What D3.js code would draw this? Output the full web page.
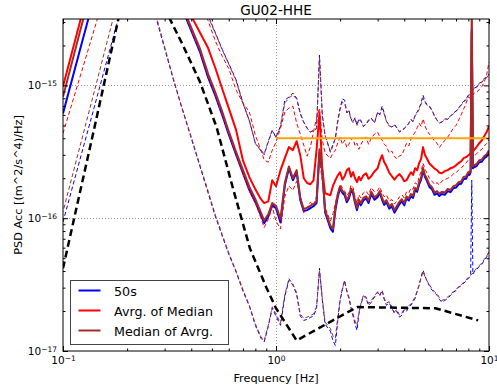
<!DOCTYPE html>
<html>
<head>
<meta charset="utf-8">
<script src="https://cdn.jsdelivr.net/npm/d3@7"></script>
<style>
  body { margin: 0; background: #fff; }
  svg { display: block; font-family: "DejaVu Sans", sans-serif; }
</style>
</head>
<body>
<div id="chart"></div>
<script>
// frequency grid shared by the PSD curves (Hz)
const freqHz = [
  0.1, 0.12, 0.14, 0.16, 0.18, 0.22, 0.26, 0.3, 0.33, 0.36,
  0.4, 0.44, 0.48, 0.52, 0.56, 0.6, 0.65, 0.7, 0.75, 0.8,
  0.85, 0.88, 0.92, 0.96,
  1.0, 1.05, 1.1, 1.15, 1.2, 1.25, 1.3, 1.35, 1.4, 1.45, 1.5, 1.55, 1.6, 1.65, 1.7,
  1.8, 1.85, 1.9, 1.95, 2.0,
  2.05, 2.1, 2.15, 2.2, 2.25,
  2.3, 2.35, 2.4, 2.45, 2.5,
  2.57, 2.65, 2.72, 2.8, 2.9,
  3.0, 3.07, 3.15, 3.22, 3.3,
  3.4, 3.5, 3.6, 3.7, 3.8,
  3.9, 4.0, 4.1, 4.2, 4.3,
  4.4, 4.5, 4.6, 4.7, 4.8,
  4.9, 5.0, 5.1, 5.25, 5.4,
  5.55, 5.7, 5.85, 6.0, 6.2,
  6.4, 6.6, 6.8, 7.0, 7.2,
  7.4, 7.6, 7.8, 8.0, 8.1,
  8.2, 8.3, 8.4, 8.5, 8.75,
  9.0, 9.25, 9.5, 9.75, 10
]

// 50s windows
const psd50s = [
  6.15e-16, 1.84e-15, 4.6e-15, 1.2e-14, 2e-14, 3e-14, 2.5e-14, 1.2e-14, 5.4e-15, 3.9e-15,
  2.58e-15, 1.78e-15, 1.15e-15, 8.3e-16, 5.93e-16, 4.27e-16, 3.0e-16, 2.18e-16, 1.63e-16, 1.32e-16,
  1.05e-16, 9.17e-17, 1.03e-16, 1.25e-16,
  1.19e-16, 9.3e-17, 1.77e-16, 2.38e-16, 1.93e-16, 2.22e-16, 1.37e-16, 1.13e-16, 1.15e-16, 1.19e-16, 1.23e-16, 1.3e-16, 3.14e-16, 2.22e-16, 1.11e-16,
  8.4e-17, 7.9e-17, 1.15e-16, 1.45e-16, 1.68e-16,
  1.55e-16, 1.49e-16, 1.32e-16, 1.41e-16, 1.62e-16,
  1.54e-16, 1.3e-16, 1.15e-16, 1.33e-16, 1.25e-16,
  1.36e-16, 1.41e-16, 1.3e-16, 1.52e-16, 1.38e-16,
  1.44e-16, 1.55e-16, 1.37e-16, 1.26e-16, 1.32e-16,
  1.18e-16, 1.23e-16, 1.1e-16, 1.19e-16, 1.28e-16,
  1.34e-16, 1.25e-16, 1.41e-16, 1.36e-16, 1.46e-16,
  1.42e-16, 1.63e-16, 1.58e-16, 1.8e-16, 1.95e-16,
  2.3e-16, 2.05e-16, 1.93e-16, 1.72e-16, 1.65e-16,
  1.5e-16, 1.54e-16, 1.47e-16, 1.52e-16, 1.5e-16,
  1.6e-16, 1.57e-16, 1.68e-16, 1.7e-16, 1.8e-16,
  1.82e-16, 1.97e-16, 1.98e-16, 2.15e-16, 2.12e-16,
  2.22e-16, 2.61e-15, 2.38e-16, 2.42e-16, 2.47e-16,
  2.64e-16, 2.66e-16, 2.83e-16, 2.92e-16, 3.14e-16
]
const psd50sHigh = [
  6e-15, 1.2e-14, 2.2e-14, 3.5e-14, 5e-14, 7e-14, 6e-14, 4e-14, 2.5e-14, 1.4e-14,
  7e-15, 4.67e-15, 3.36e-15, 2.48e-15, 1.86e-15, 1.46e-15, 1.1e-15, 7.36e-16, 5.43e-16, 3.67e-16,
  3.25e-16, 3.04e-16, 3.8e-16, 4.6e-16,
  4.08e-16, 4.94e-16, 7.75e-16, 8.17e-16, 8.76e-16, 8.03e-16, 6.19e-16, 5.3e-16, 4.77e-16, 4.45e-16, 4.6e-16, 4.77e-16, 1.69e-15, 5.98e-16, 4.22e-16,
  3.14e-16, 3.5e-16, 4.01e-16, 5.5e-16, 6.75e-16,
  7.9e-16, 7.75e-16, 6.2e-16, 6.52e-16, 5.6e-16,
  5.3e-16, 5.7e-16, 5.02e-16, 5.6e-16, 5.48e-16,
  4.9e-16, 5.11e-16, 5.5e-16, 5.67e-16, 5.2e-16,
  6.3e-16, 6.0e-16, 6.98e-16, 6.2e-16, 5.38e-16,
  5.0e-16, 4.85e-16, 5.1e-16, 4.77e-16, 4.45e-16,
  4.6e-16, 4.75e-16, 4.94e-16, 5.2e-16, 5.57e-16,
  5.3e-16, 5.98e-16, 6.3e-16, 6.75e-16, 7.4e-16,
  8.44e-16, 7.6e-16, 7.23e-16, 7.0e-16, 6.52e-16,
  5.9e-16, 5.48e-16, 5.2e-16, 5.3e-16, 5.6e-16,
  5.57e-16, 5.9e-16, 6.19e-16, 6.4e-16, 6.75e-16,
  7.2e-16, 7.6e-16, 7.9e-16, 8.44e-16, 8.5e-16,
  8.76e-16, 9.1e-16, 9.28e-16, 9.55e-16, 9.7e-16,
  1.04e-15, 1.06e-15, 1.13e-15, 1.15e-15, 1.22e-15
]
const psd50sLow = [
  9.36e-17, 2.75e-16, 6.8e-16, 1.5e-15, 3.0e-15, 1.12e-14, 4.3e-15, 1.9e-15, 1.1e-15, 6.9e-16,
  4.0e-16, 2.44e-16, 1.55e-16, 1.02e-16, 7.3e-17, 5.36e-17, 3.92e-17, 2.82e-17, 2.17e-17, 1.56e-17,
  1.25e-17, 1.17e-17, 1.53e-17, 2.1e-17,
  1.83e-17, 1.56e-17, 2.58e-17, 3.41e-17, 3.13e-17, 2.67e-17, 1.83e-17, 1.7e-17, 1.73e-17, 1.79e-17, 1.83e-17, 2.1e-17, 4.2e-17, 2.41e-17, 1.59e-17,
  1.41e-17, 1.2e-17, 1.1e-17, 1.7e-17, 2.41e-17,
  2.9e-17, 3.41e-17, 2.8e-17, 2.49e-17, 2.1e-17,
  1.83e-17, 1.6e-17, 1.43e-17, 1.9e-17, 2.21e-17,
  2.6e-17, 2.49e-17, 2.2e-17, 2.33e-17, 2.55e-17,
  2.77e-17, 2.6e-17, 2.87e-17, 2.45e-17, 2.21e-17,
  2.3e-17, 2.1e-17, 1.92e-17, 1.99e-17, 1.8e-17,
  1.86e-17, 2.05e-17, 1.99e-17, 2.15e-17, 2.21e-17,
  2.35e-17, 2.49e-17, 2.8e-17, 3.13e-17, 3.6e-17,
  4.06e-17, 3.7e-17, 3.41e-17, 3.1e-17, 2.87e-17,
  2.75e-17, 2.63e-17, 2.45e-17, 2.33e-17, 2.4e-17,
  2.49e-17, 2.62e-17, 2.77e-17, 2.85e-17, 3.02e-17,
  3.1e-17, 3.24e-17, 3.35e-17, 3.53e-17, 3.58e-17,
  3.66e-17, 1.93e-16, 3.78e-17, 3.92e-17, 4.1e-17,
  4.35e-17, 4.5e-17, 4.83e-17, 5.1e-17, 5.55e-17
]

// average of medians
const psdAvgMed = [
  9.8e-16, 2.99e-15, 7.65e-15, 1.8e-14, 2.8e-14, 4e-14, 3.5e-14, 2e-14, 5.9e-15, 4.55e-15,
  3.33e-15, 2.49e-15, 1.91e-15, 1.34e-15, 9.35e-16, 6.75e-16, 4.6e-16, 2.71e-16, 2.04e-16, 1.65e-16,
  1.39e-16, 1.3e-16, 1.34e-16, 1.93e-16,
  1.74e-16, 2.3e-16, 2.83e-16, 3.43e-16, 3.25e-16, 3.8e-16, 2.98e-16, 2.0e-16, 1.84e-16, 1.8e-16, 1.93e-16, 3.25e-16, 6.2e-16, 2.3e-16, 1.54e-16,
  1.49e-16, 1.75e-16, 1.93e-16, 2.1e-16, 2.22e-16,
  1.95e-16, 2.07e-16, 2.3e-16, 2.38e-16, 2.05e-16,
  2.22e-16, 2.0e-16, 1.87e-16, 2.05e-16, 1.93e-16,
  2.1e-16, 2.18e-16, 1.98e-16, 2.07e-16, 2.25e-16,
  2.38e-16, 2.7e-16, 2.98e-16, 2.65e-16, 2.47e-16,
  2.2e-16, 2.07e-16, 1.95e-16, 2.07e-16, 2.15e-16,
  2.04e-16, 1.9e-16, 1.93e-16, 2.08e-16, 2.22e-16,
  2.12e-16, 2.38e-16, 2.3e-16, 2.6e-16, 2.8e-16,
  3.43e-16, 3.0e-16, 2.83e-16, 2.58e-16, 2.47e-16,
  2.36e-16, 2.3e-16, 2.2e-16, 2.18e-16, 2.26e-16,
  2.3e-16, 2.38e-16, 2.42e-16, 2.5e-16, 2.6e-16,
  2.68e-16, 2.83e-16, 2.88e-16, 2.98e-16, 3.02e-16,
  3.09e-16, 2.48e-15, 3.2e-16, 3.25e-16, 3.45e-16,
  3.67e-16, 3.85e-16, 4.15e-16, 4.45e-16, 4.94e-16
]
const psdAvgMedHigh = [
  8e-15, 1.6e-14, 3e-14, 5e-14, 7e-14, 9e-14, 8e-14, 5e-14, 3e-14, 1.6e-14,
  9e-15, 4.74e-15, 3.07e-15, 2.14e-15, 1.65e-15, 1.34e-15, 9.2e-16, 7.36e-16, 6.3e-16, 4.22e-16,
  3.25e-16, 2.74e-16, 2.64e-16, 3.25e-16,
  3.74e-16, 4.77e-16, 6.3e-16, 6.75e-16, 6.98e-16, 5.2e-16, 4.3e-16, 3.55e-16, 2.93e-16, 3.43e-16, 4.45e-16, 5.67e-16, 6.75e-16, 3.87e-16, 3.09e-16,
  2.83e-16, 3.1e-16, 3.25e-16, 3.7e-16, 4.08e-16,
  3.6e-16, 3.87e-16, 3.4e-16, 3.61e-16, 3.9e-16,
  4.01e-16, 3.5e-16, 3.67e-16, 3.3e-16, 3.55e-16,
  3.9e-16, 4.08e-16, 3.6e-16, 4.01e-16, 4.3e-16,
  4.45e-16, 4.1e-16, 3.87e-16, 3.6e-16, 3.49e-16,
  3.1e-16, 3.2e-16, 2.9e-16, 2.8e-16, 2.95e-16,
  3.0e-16, 3.3e-16, 3.67e-16, 3.5e-16, 3.94e-16,
  4.2e-16, 4.45e-16, 4.8e-16, 5.2e-16, 4.9e-16,
  5.6e-16, 5.0e-16, 4.6e-16, 4.3e-16, 4.08e-16,
  3.8e-16, 3.67e-16, 3.4e-16, 3.61e-16, 3.85e-16,
  4.08e-16, 4.4e-16, 4.77e-16, 5.0e-16, 5.48e-16,
  6.0e-16, 6.63e-16, 7.3e-16, 8.2e-16, 8.0e-16,
  8.3e-16, 8.44e-16, 8.44e-16, 8.76e-16, 8.9e-16,
  9.28e-16, 9.8e-16, 1.06e-15, 1.2e-15, 1.5e-15
]
const psdAvgMedLow = [
  4.35e-16, 1.15e-15, 2.62e-15, 5.4e-15, 1e-14, 2e-14, 1.8e-14, 1e-14, 5.5e-15, 4e-15,
  2.6e-15, 1.8e-15, 1.17e-15, 8.4e-16, 6.0e-16, 4.3e-16, 3.0e-16, 2.15e-16, 1.6e-16, 1.3e-16,
  1.0e-16, 8.5e-17, 9.8e-17, 1.22e-16,
  9.5e-17, 8.3e-17, 1.45e-16, 1.75e-16, 1.62e-16, 1.9e-16, 1.5e-16, 1.1e-16, 1.2e-16, 1.32e-16, 1.25e-16, 1.45e-16, 2.8e-16, 1.9e-16, 1.2e-16,
  9.5e-17, 1.08e-16, 1.3e-16, 1.55e-16, 1.8e-16,
  1.7e-16, 1.6e-16, 1.48e-16, 1.55e-16, 1.78e-16,
  1.7e-16, 1.45e-16, 1.3e-16, 1.5e-16, 1.42e-16,
  1.55e-16, 1.6e-16, 1.5e-16, 1.7e-16, 1.58e-16,
  1.62e-16, 1.72e-16, 1.55e-16, 1.45e-16, 1.5e-16,
  1.35e-16, 1.38e-16, 1.28e-16, 1.35e-16, 1.45e-16,
  1.5e-16, 1.42e-16, 1.58e-16, 1.55e-16, 1.68e-16,
  1.65e-16, 1.85e-16, 1.8e-16, 2.05e-16, 2.25e-16,
  2.6e-16, 2.35e-16, 2.2e-16, 2.0e-16, 1.9e-16,
  1.8e-16, 1.85e-16, 1.78e-16, 1.9e-16, 1.95e-16,
  2.0e-16, 2.05e-16, 2.15e-16, 2.2e-16, 2.3e-16,
  2.38e-16, 2.5e-16, 2.6e-16, 2.75e-16, 2.78e-16,
  2.82e-16, 2.88e-16, 2.9e-16, 2.95e-16, 3.05e-16,
  3.2e-16, 3.3e-16, 3.5e-16, 3.65e-16, 3.9e-16
]

// median of averages
const psdMedAvg = [
  8.2e-16, 2.52e-15, 6.5e-15, 1.4e-14, 2.2e-14, 3.2e-14, 2.7e-14, 1.3e-14, 5.8e-15, 4.1e-15,
  2.72e-15, 1.88e-15, 1.22e-15, 8.8e-16, 6.3e-16, 4.5e-16, 3.15e-16, 2.3e-16, 1.72e-16, 1.39e-16,
  1.1e-16, 9.6e-17, 1.07e-16, 1.3e-16,
  1.24e-16, 9.9e-17, 1.84e-16, 2.45e-16, 2.0e-16, 2.3e-16, 1.42e-16, 1.17e-16, 1.2e-16, 1.24e-16, 1.28e-16, 1.34e-16, 3.3e-16, 2.3e-16, 1.15e-16,
  8.8e-17, 8.3e-17, 1.2e-16, 1.52e-16, 1.74e-16,
  1.6e-16, 1.55e-16, 1.37e-16, 1.46e-16, 1.67e-16,
  1.6e-16, 1.35e-16, 1.2e-16, 1.38e-16, 1.3e-16,
  1.42e-16, 1.46e-16, 1.36e-16, 1.58e-16, 1.43e-16,
  1.5e-16, 1.6e-16, 1.42e-16, 1.31e-16, 1.37e-16,
  1.23e-16, 1.28e-16, 1.15e-16, 1.24e-16, 1.33e-16,
  1.39e-16, 1.3e-16, 1.46e-16, 1.41e-16, 1.52e-16,
  1.48e-16, 1.69e-16, 1.64e-16, 1.87e-16, 2.02e-16,
  2.4e-16, 2.12e-16, 2.0e-16, 1.79e-16, 1.71e-16,
  1.56e-16, 1.6e-16, 1.53e-16, 1.58e-16, 1.56e-16,
  1.66e-16, 1.63e-16, 1.74e-16, 1.77e-16, 1.87e-16,
  1.89e-16, 2.04e-16, 2.06e-16, 2.23e-16, 2.2e-16,
  2.3e-16, 4e-15, 2.46e-16, 2.5e-16, 2.56e-16,
  2.73e-16, 2.76e-16, 2.93e-16, 3.03e-16, 3.25e-16
]
const psdMedAvgHigh = [
  6e-15, 1.2e-14, 2.2e-14, 3.5e-14, 5e-14, 7e-14, 6e-14, 4e-14, 2.5e-14, 1.4e-14,
  7e-15, 4.6e-15, 3.3e-15, 2.45e-15, 1.84e-15, 1.45e-15, 1.08e-15, 7.3e-16, 5.4e-16, 3.65e-16,
  3.2e-16, 3.0e-16, 3.75e-16, 4.55e-16,
  4.05e-16, 4.85e-16, 7.4e-16, 8.0e-16, 8.5e-16, 7.9e-16, 6.1e-16, 5.25e-16, 4.75e-16, 4.45e-16, 4.55e-16, 4.7e-16, 1.6e-15, 5.9e-16, 4.2e-16,
  3.2e-16, 3.6e-16, 4.0e-16, 5.3e-16, 6.6e-16,
  7.5e-16, 7.3e-16, 6.3e-16, 6.4e-16, 5.5e-16,
  5.25e-16, 5.6e-16, 5.0e-16, 5.5e-16, 5.4e-16,
  4.95e-16, 5.1e-16, 5.4e-16, 5.6e-16, 5.3e-16,
  6.2e-16, 6.1e-16, 6.7e-16, 6.1e-16, 5.35e-16,
  4.95e-16, 4.85e-16, 5.0e-16, 4.75e-16, 4.5e-16,
  4.6e-16, 4.7e-16, 4.9e-16, 5.15e-16, 5.5e-16,
  5.35e-16, 5.9e-16, 6.2e-16, 6.6e-16, 7.2e-16,
  8.0e-16, 7.5e-16, 7.1e-16, 6.9e-16, 6.45e-16,
  5.85e-16, 5.45e-16, 5.25e-16, 5.3e-16, 5.5e-16,
  5.55e-16, 5.85e-16, 6.1e-16, 6.35e-16, 6.7e-16,
  7.1e-16, 7.5e-16, 7.8e-16, 8.3e-16, 8.45e-16,
  8.7e-16, 9.0e-16, 9.2e-16, 9.5e-16, 9.65e-16,
  1.03e-15, 1.05e-15, 1.12e-15, 1.14e-15, 1.21e-15
]
const psdMedAvgLow = [
  1.12e-16, 3.45e-16, 8.9e-16, 2.04e-15, 4.24e-15, 1.2e-14, 4.5e-15, 1.95e-15, 1.12e-15, 7.0e-16,
  4.1e-16, 2.5e-16, 1.6e-16, 1.05e-16, 7.5e-17, 5.5e-17, 4.0e-17, 2.9e-17, 2.2e-17, 1.6e-17,
  1.28e-17, 1.2e-17, 1.56e-17, 2.15e-17,
  1.9e-17, 1.62e-17, 2.65e-17, 3.5e-17, 3.2e-17, 2.75e-17, 1.9e-17, 1.76e-17, 1.8e-17, 1.85e-17, 1.9e-17, 2.15e-17, 4.0e-17, 2.5e-17, 1.65e-17,
  1.48e-17, 1.3e-17, 1.25e-17, 1.8e-17, 2.45e-17,
  2.95e-17, 3.35e-17, 2.85e-17, 2.55e-17, 2.15e-17,
  1.9e-17, 1.68e-17, 1.55e-17, 1.95e-17, 2.25e-17,
  2.62e-17, 2.55e-17, 2.28e-17, 2.4e-17, 2.6e-17,
  2.8e-17, 2.65e-17, 2.85e-17, 2.5e-17, 2.3e-17,
  2.35e-17, 2.15e-17, 1.98e-17, 2.05e-17, 1.86e-17,
  1.92e-17, 2.1e-17, 2.05e-17, 2.2e-17, 2.25e-17,
  2.4e-17, 2.55e-17, 2.85e-17, 3.15e-17, 3.55e-17,
  3.95e-17, 3.65e-17, 3.4e-17, 3.15e-17, 2.95e-17,
  2.8e-17, 2.7e-17, 2.52e-17, 2.4e-17, 2.45e-17,
  2.55e-17, 2.68e-17, 2.8e-17, 2.9e-17, 3.05e-17,
  3.15e-17, 3.3e-17, 3.42e-17, 3.6e-17, 3.65e-17,
  3.72e-17, 3.8e-17, 3.85e-17, 4.0e-17, 4.2e-17,
  4.4e-17, 4.6e-17, 4.9e-17, 5.2e-17, 5.6e-17
]

// reference noise model
const modelFreq = [0.1, 0.14, 0.2, 0.25, 0.3, 0.366, 0.44, 0.527, 0.628, 0.755, 0.904, 1.0, 1.25, 1.85, 2.4, 5.6, 8.9]
const modelPsd = [4.2e-17, 4.7e-16, 6.3e-15, 2e-14, 3.8e-15, 2.0e-15, 1.06e-15, 4.8e-16, 1.68e-16, 5.9e-17, 2.97e-17, 2.1e-17, 1.2e-17, 1.7e-17, 2.14e-17, 2.1e-17, 1.7e-17]

// flat limit line
const limitFreq = [1, 10]
const limitPsd = [4e-16, 4e-16]

const legendLabels = ['50s', 'Avrg. of Median', 'Median of Avrg.']
const legendColors = ['#0000ff', '#ff0000', '#a52a2a']
const xMajor = [0.1, 1, 10]
const yMajor = [1e-17, 1e-16, 1e-15]

const W = 497
const H = 388
const margin = { top: 19, right: 8, bottom: 37, left: 63 }
const width = W - margin.left - margin.right
const height = H - margin.top - margin.bottom

const x = d3.scaleLog().domain([0.1, 10]).range([0, width])
const y = d3.scaleLog().domain([1e-17, Math.pow(10, -14.5)]).range([height, 0])

const svg = d3.select('#chart')
  .append('svg')
  .attr('width', W)
  .attr('height', H)

svg.append('defs')
  .append('clipPath')
  .attr('id', 'plot-clip')
  .append('rect')
  .attr('width', width)
  .attr('height', height)

const g = svg.append('g')
  .attr('transform', `translate(${margin.left},${margin.top})`)

// dotted grid at the decades
g.append('g')
  .selectAll('line')
  .data(yMajor.slice(1))
  .join('line')
  .attr('x1', 0)
  .attr('x2', width)
  .attr('y1', d => Math.round(y(d)) + 0.5)
  .attr('y2', d => Math.round(y(d)) + 0.5)
  .attr('stroke', '#999')
  .attr('stroke-dasharray', '1,2')
g.append('line')
  .attr('x1', Math.round(x(1)) + 0.5)
  .attr('x2', Math.round(x(1)) + 0.5)
  .attr('y1', 0)
  .attr('y2', height)
  .attr('stroke', '#999')
  .attr('stroke-dasharray', '1,2')

const line = d3.line()
  .x(d => x(d[0]))
  .y(d => y(d[1]))

// blue/brown dashes are phase shifted so the overlapping percentiles alternate
const curves = [
  { f: freqHz, v: psd50sHigh, color: '#0000ff', w: 1, dash: '4,2.5', off: 0 },
  { f: freqHz, v: psd50sLow, color: '#0000ff', w: 1, dash: '4,2.5', off: 0 },
  { f: freqHz, v: psd50s, color: '#0000ff', w: 2 },
  { f: freqHz, v: psdAvgMedHigh, color: '#ff0000', w: 1, dash: '4,2.5', off: 0 },
  { f: freqHz, v: psdAvgMedLow, color: '#ff0000', w: 1, dash: '4,2.5', off: 0 },
  { f: freqHz, v: psdAvgMed, color: '#ff0000', w: 2 },
  { f: freqHz, v: psdMedAvgHigh, color: '#a52a2a', w: 1, dash: '4,2.5', off: 3.2 },
  { f: freqHz, v: psdMedAvgLow, color: '#a52a2a', w: 1, dash: '4,2.5', off: 3.2 },
  { f: freqHz, v: psdMedAvg, color: '#a52a2a', w: 2 },
  { f: modelFreq, v: modelPsd, color: '#000000', w: 2.5, dash: '7,4', off: 0 },
  { f: limitFreq, v: limitPsd, color: '#ffa500', w: 2 }
]

g.append('g')
  .attr('clip-path', 'url(#plot-clip)')
  .selectAll('path')
  .data(curves)
  .join('path')
  .attr('d', d => line(d3.zip(d.f, d.v)))
  .attr('fill', 'none')
  .attr('stroke', d => d.color)
  .attr('stroke-width', d => d.w)
  .attr('stroke-linejoin', 'round')
  .attr('stroke-dasharray', d => d.dash || null)
  .attr('stroke-dashoffset', d => d.off || 0)

// tick labels as 10 with a superscript exponent
const powerLabel = (text) => {
  text.each(function (d) {
    const t = d3.select(this)
    const e = Math.round(Math.log10(d))
    t.text(null)
    t.append('tspan').text('10')
    t.append('tspan')
      .attr('dy', '-0.45em')
      .attr('font-size', '7.5px')
      .text(String(e).replace('-', '\u2212'))
  })
}

const minorX = x.ticks().filter(d => !xMajor.some(m => Math.abs(m - d) < 1e-9))
const minorY = y.ticks().filter(d => Math.abs(Math.log10(d) - Math.round(Math.log10(d))) > 1e-6)

const styleAxis = (sel) => {
  sel.select('.domain').remove()
  sel.selectAll('.tick line').attr('stroke', '#000')
  sel.selectAll('text')
    .attr('font-family', '"DejaVu Sans", sans-serif')
    .attr('font-size', '10.5px')
    .attr('fill', '#000')
}

// bottom
g.append('g')
  .attr('transform', `translate(0,${height})`)
  .call(d3.axisBottom(x).tickValues(xMajor).tickSize(-5).tickSizeOuter(0).tickPadding(6))
  .call(styleAxis)
  .call(a => a.selectAll('text').call(powerLabel))
g.append('g')
  .attr('transform', `translate(0,${height})`)
  .call(d3.axisBottom(x).tickValues(minorX).tickSize(-2.5).tickSizeOuter(0).tickFormat(''))
  .call(styleAxis)
// top
g.append('g')
  .call(d3.axisTop(x).tickValues(xMajor).tickSize(-5).tickSizeOuter(0).tickFormat(''))
  .call(styleAxis)
g.append('g')
  .call(d3.axisTop(x).tickValues(minorX).tickSize(-2.5).tickSizeOuter(0).tickFormat(''))
  .call(styleAxis)
// left
g.append('g')
  .call(d3.axisLeft(y).tickValues(yMajor).tickSize(-5).tickSizeOuter(0).tickPadding(6))
  .call(styleAxis)
  .call(a => a.selectAll('text').call(powerLabel))
g.append('g')
  .call(d3.axisLeft(y).tickValues(minorY).tickSize(-2.5).tickSizeOuter(0).tickFormat(''))
  .call(styleAxis)
// right
g.append('g')
  .attr('transform', `translate(${width},0)`)
  .call(d3.axisRight(y).tickValues(yMajor).tickSize(-5).tickSizeOuter(0).tickFormat(''))
  .call(styleAxis)
g.append('g')
  .attr('transform', `translate(${width},0)`)
  .call(d3.axisRight(y).tickValues(minorY).tickSize(-2.5).tickSizeOuter(0).tickFormat(''))
  .call(styleAxis)

// plot frame
g.append('rect')
  .attr('x', 0)
  .attr('y', 0)
  .attr('width', width)
  .attr('height', height)
  .attr('fill', 'none')
  .attr('stroke', '#000')

// legend
const legend = svg.append('g').attr('transform', 'translate(70.5,280.5)')
legend.append('rect')
  .attr('width', 158)
  .attr('height', 64)
  .attr('fill', '#fff')
  .attr('stroke', '#444')
const item = legend.selectAll('g.item')
  .data(legendLabels)
  .join('g')
  .attr('class', 'item')
  .attr('transform', (d, i) => `translate(0,${10 + i * 20})`)
item.append('line')
  .attr('x1', 8)
  .attr('x2', 30)
  .attr('stroke', (d, i) => legendColors[i])
  .attr('stroke-width', 2)
item.append('text')
  .attr('x', 43.5)
  .attr('y', 5)
  .attr('font-size', '12.7px')
  .attr('fill', '#000')
  .text(d => d)

// titles
svg.append('text')
  .attr('x', margin.left + width / 2)
  .attr('y', 15)
  .attr('text-anchor', 'middle')
  .attr('font-size', '13.6px')
  .text('GU02-HHE')
svg.append('text')
  .attr('x', margin.left + width / 2)
  .attr('y', 382)
  .attr('text-anchor', 'middle')
  .attr('font-size', '11.3px')
  .text('Frequency [Hz]')
svg.append('text')
  .attr('transform', 'translate(21.5,185) rotate(-90)')
  .attr('text-anchor', 'middle')
  .attr('font-size', '11.3px')
  .text('PSD Acc [(m^2/s^4)/Hz]')
</script>
</body>
</html>
